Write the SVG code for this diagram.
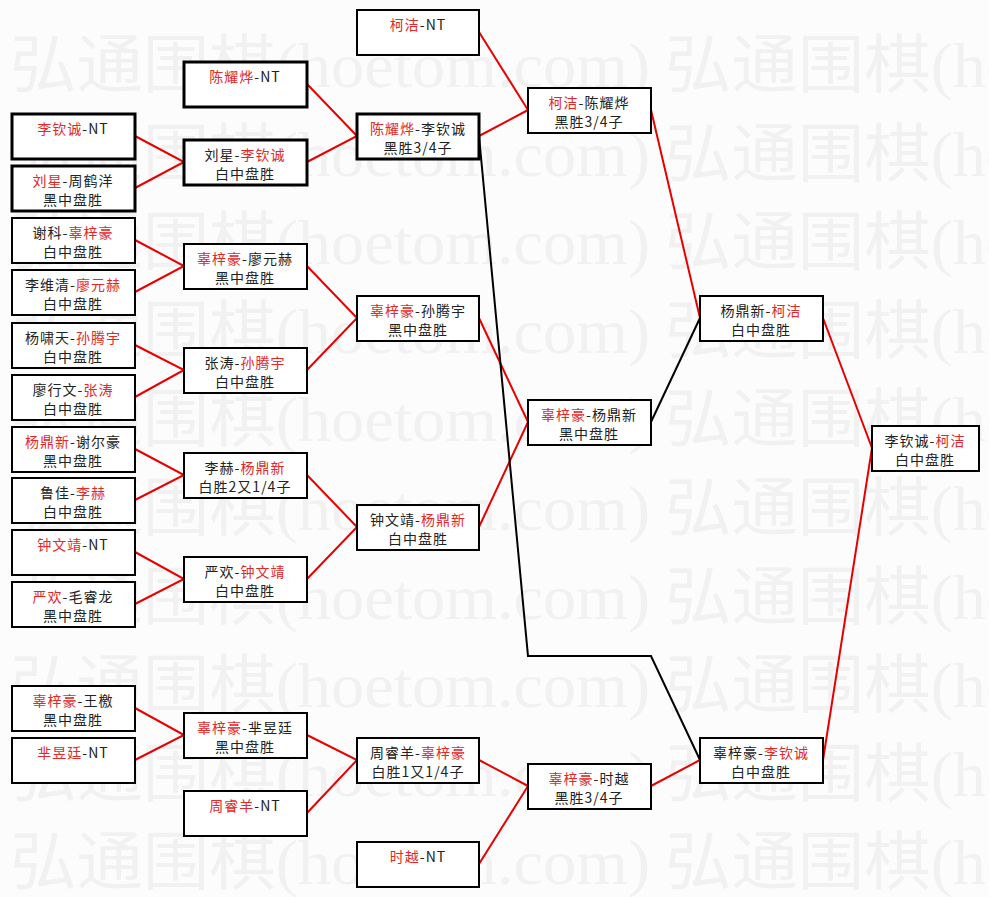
<svg xmlns="http://www.w3.org/2000/svg" width="989" height="897" viewBox="0 0 989 897">
<style>
.wm{font-family:"Liberation Serif","Noto Sans CJK SC",serif;font-size:64px;fill:#f1f1f1}
.b{fill:#fff;stroke:#000;stroke-width:2}
.bb{fill:#fff;stroke:#000;stroke-width:3}
.t{font-family:"Noto Sans CJK SC","Liberation Sans",sans-serif;font-size:14px;text-anchor:middle;fill:#222;letter-spacing:1px}
.r{fill:#e22828}
.lr{stroke:#e80000;stroke-width:2;fill:none}
.lk{stroke:#000;stroke-width:2;fill:none}
</style>
<rect width="989" height="897" fill="#fcfcfc"/>
<g id="watermark">
<text class="wm" x="10" y="87" textLength="640" lengthAdjust="spacingAndGlyphs">弘通围棋(hoetom.com)</text><text class="wm" x="665" y="87" textLength="640" lengthAdjust="spacingAndGlyphs">弘通围棋(hoetom.com)</text>
<text class="wm" x="10" y="176" textLength="640" lengthAdjust="spacingAndGlyphs">弘通围棋(hoetom.com)</text><text class="wm" x="665" y="176" textLength="640" lengthAdjust="spacingAndGlyphs">弘通围棋(hoetom.com)</text>
<text class="wm" x="10" y="264" textLength="640" lengthAdjust="spacingAndGlyphs">弘通围棋(hoetom.com)</text><text class="wm" x="665" y="264" textLength="640" lengthAdjust="spacingAndGlyphs">弘通围棋(hoetom.com)</text>
<text class="wm" x="10" y="353" textLength="640" lengthAdjust="spacingAndGlyphs">弘通围棋(hoetom.com)</text><text class="wm" x="665" y="353" textLength="640" lengthAdjust="spacingAndGlyphs">弘通围棋(hoetom.com)</text>
<text class="wm" x="10" y="441" textLength="640" lengthAdjust="spacingAndGlyphs">弘通围棋(hoetom.com)</text><text class="wm" x="665" y="441" textLength="640" lengthAdjust="spacingAndGlyphs">弘通围棋(hoetom.com)</text>
<text class="wm" x="10" y="530" textLength="640" lengthAdjust="spacingAndGlyphs">弘通围棋(hoetom.com)</text><text class="wm" x="665" y="530" textLength="640" lengthAdjust="spacingAndGlyphs">弘通围棋(hoetom.com)</text>
<text class="wm" x="10" y="619" textLength="640" lengthAdjust="spacingAndGlyphs">弘通围棋(hoetom.com)</text><text class="wm" x="665" y="619" textLength="640" lengthAdjust="spacingAndGlyphs">弘通围棋(hoetom.com)</text>
<text class="wm" x="10" y="707" textLength="640" lengthAdjust="spacingAndGlyphs">弘通围棋(hoetom.com)</text><text class="wm" x="665" y="707" textLength="640" lengthAdjust="spacingAndGlyphs">弘通围棋(hoetom.com)</text>
<text class="wm" x="10" y="796" textLength="640" lengthAdjust="spacingAndGlyphs">弘通围棋(hoetom.com)</text><text class="wm" x="665" y="796" textLength="640" lengthAdjust="spacingAndGlyphs">弘通围棋(hoetom.com)</text>
<text class="wm" x="10" y="884" textLength="640" lengthAdjust="spacingAndGlyphs">弘通围棋(hoetom.com)</text><text class="wm" x="665" y="884" textLength="640" lengthAdjust="spacingAndGlyphs">弘通围棋(hoetom.com)</text>
</g>
<g id="connectors">
<polyline class="lr" points="135,136 184,162 135,188"/>
<polyline class="lr" points="135,240 184,266 135,292"/>
<polyline class="lr" points="135,345 184,370 135,397"/>
<polyline class="lr" points="135,449 184,475 135,500"/>
<polyline class="lr" points="135,552 184,579 135,604"/>
<polyline class="lr" points="135,708 184,735 135,760"/>
<polyline class="lr" points="307,84 357,136 307,162"/>
<polyline class="lr" points="307,266 357,318 307,370"/>
<polyline class="lr" points="307,475 357,527 307,579"/>
<polyline class="lr" points="307,735 357,760 307,813"/>
<polyline class="lr" points="479,32 528,110 479,136"/>
<polyline class="lr" points="479,318 528,422 479,527"/>
<polyline class="lr" points="479,760 528,786 479,864"/>
<line class="lr" x1="651" y1="110" x2="700" y2="318"/>
<line class="lk" x1="651" y1="422" x2="700" y2="318"/>
<line class="lr" x1="651" y1="786" x2="700" y2="760"/>
<polyline class="lk" points="479,136 528,656 651,656 700,760"/>
<polyline class="lr" points="823,318 872,448 823,760"/>
</g>
<g id="n1"><rect class="bb" x="12" y="114" width="123" height="45"/><text class="t" x="73" y="134"><tspan class="r">李钦诚</tspan>-NT</text></g>
<g id="n2"><rect class="bb" x="12" y="166" width="123" height="45"/><text class="t" x="73" y="186"><tspan class="r">刘星</tspan>-周鹤洋</text><text class="t" x="73" y="205">黑中盘胜</text></g>
<g id="n3"><rect class="b" x="12" y="218" width="123" height="45"/><text class="t" x="73" y="238">谢科-<tspan class="r">辜梓豪</tspan></text><text class="t" x="73" y="257">白中盘胜</text></g>
<g id="n4"><rect class="b" x="12" y="270" width="123" height="45"/><text class="t" x="73" y="290">李维清-<tspan class="r">廖元赫</tspan></text><text class="t" x="73" y="309">白中盘胜</text></g>
<g id="n5"><rect class="b" x="12" y="323" width="123" height="45"/><text class="t" x="73" y="343">杨啸天-<tspan class="r">孙腾宇</tspan></text><text class="t" x="73" y="362">白中盘胜</text></g>
<g id="n6"><rect class="b" x="12" y="375" width="123" height="45"/><text class="t" x="73" y="395">廖行文-<tspan class="r">张涛</tspan></text><text class="t" x="73" y="414">白中盘胜</text></g>
<g id="n7"><rect class="b" x="12" y="427" width="123" height="45"/><text class="t" x="73" y="447"><tspan class="r">杨鼎新</tspan>-谢尔豪</text><text class="t" x="73" y="466">黑中盘胜</text></g>
<g id="n8"><rect class="b" x="12" y="478" width="123" height="45"/><text class="t" x="73" y="498">鲁佳-<tspan class="r">李赫</tspan></text><text class="t" x="73" y="517">白中盘胜</text></g>
<g id="n9"><rect class="b" x="12" y="530" width="123" height="45"/><text class="t" x="73" y="550"><tspan class="r">钟文靖</tspan>-NT</text></g>
<g id="n10"><rect class="b" x="12" y="582" width="123" height="45"/><text class="t" x="73" y="602"><tspan class="r">严欢</tspan>-毛睿龙</text><text class="t" x="73" y="621">黑中盘胜</text></g>
<g id="n11"><rect class="b" x="12" y="686" width="123" height="45"/><text class="t" x="73" y="706"><tspan class="r">辜梓豪</tspan>-王檄</text><text class="t" x="73" y="725">黑中盘胜</text></g>
<g id="n12"><rect class="b" x="12" y="738" width="123" height="45"/><text class="t" x="73" y="758"><tspan class="r">芈昱廷</tspan>-NT</text></g>
<g id="m1"><rect class="bb" x="184" y="62" width="123" height="45"/><text class="t" x="245" y="82"><tspan class="r">陈耀烨</tspan>-NT</text></g>
<g id="m2"><rect class="bb" x="184" y="140" width="123" height="45"/><text class="t" x="245" y="160">刘星-<tspan class="r">李钦诚</tspan></text><text class="t" x="245" y="179">白中盘胜</text></g>
<g id="m3"><rect class="b" x="184" y="244" width="123" height="45"/><text class="t" x="245" y="264"><tspan class="r">辜梓豪</tspan>-廖元赫</text><text class="t" x="245" y="283">黑中盘胜</text></g>
<g id="m4"><rect class="b" x="184" y="348" width="123" height="45"/><text class="t" x="245" y="368">张涛-<tspan class="r">孙腾宇</tspan></text><text class="t" x="245" y="387">白中盘胜</text></g>
<g id="m5"><rect class="b" x="184" y="453" width="123" height="45"/><text class="t" x="245" y="473">李赫-<tspan class="r">杨鼎新</tspan></text><text class="t" x="245" y="492">白胜2又1/4子</text></g>
<g id="m6"><rect class="b" x="184" y="557" width="123" height="45"/><text class="t" x="245" y="577">严欢-<tspan class="r">钟文靖</tspan></text><text class="t" x="245" y="596">白中盘胜</text></g>
<g id="m7"><rect class="b" x="184" y="713" width="123" height="45"/><text class="t" x="245" y="733"><tspan class="r">辜梓豪</tspan>-芈昱廷</text><text class="t" x="245" y="752">黑中盘胜</text></g>
<g id="m8"><rect class="b" x="184" y="791" width="123" height="45"/><text class="t" x="245" y="811"><tspan class="r">周睿羊</tspan>-NT</text></g>
<g id="q1"><rect class="b" x="357" y="10" width="122" height="45"/><text class="t" x="418" y="30"><tspan class="r">柯洁</tspan>-NT</text></g>
<g id="q2"><rect class="bb" x="357" y="114" width="122" height="45"/><text class="t" x="418" y="134"><tspan class="r">陈耀烨</tspan>-李钦诚</text><text class="t" x="418" y="153">黑胜3/4子</text></g>
<g id="q3"><rect class="b" x="357" y="296" width="122" height="45"/><text class="t" x="418" y="316"><tspan class="r">辜梓豪</tspan>-孙腾宇</text><text class="t" x="418" y="335">黑中盘胜</text></g>
<g id="q4"><rect class="b" x="357" y="505" width="122" height="45"/><text class="t" x="418" y="525">钟文靖-<tspan class="r">杨鼎新</tspan></text><text class="t" x="418" y="544">白中盘胜</text></g>
<g id="q5"><rect class="b" x="357" y="738" width="122" height="45"/><text class="t" x="418" y="758">周睿羊-<tspan class="r">辜梓豪</tspan></text><text class="t" x="418" y="777">白胜1又1/4子</text></g>
<g id="q6"><rect class="b" x="357" y="842" width="122" height="45"/><text class="t" x="418" y="862"><tspan class="r">时越</tspan>-NT</text></g>
<g id="s1"><rect class="b" x="528" y="88" width="123" height="45"/><text class="t" x="589" y="108"><tspan class="r">柯洁</tspan>-陈耀烨</text><text class="t" x="589" y="127">黑胜3/4子</text></g>
<g id="s2"><rect class="b" x="528" y="400" width="123" height="45"/><text class="t" x="589" y="420"><tspan class="r">辜梓豪</tspan>-杨鼎新</text><text class="t" x="589" y="439">黑中盘胜</text></g>
<g id="s3"><rect class="b" x="528" y="764" width="123" height="45"/><text class="t" x="589" y="784"><tspan class="r">辜梓豪</tspan>-时越</text><text class="t" x="589" y="803">黑胜3/4子</text></g>
<g id="u1"><rect class="b" x="700" y="296" width="123" height="45"/><text class="t" x="761" y="316">杨鼎新-<tspan class="r">柯洁</tspan></text><text class="t" x="761" y="335">白中盘胜</text></g>
<g id="u2"><rect class="b" x="700" y="738" width="123" height="45"/><text class="t" x="761" y="758">辜梓豪-<tspan class="r">李钦诚</tspan></text><text class="t" x="761" y="777">白中盘胜</text></g>
<g id="final"><rect class="b" x="872" y="426" width="107" height="45"/><text class="t" x="925" y="446">李钦诚-<tspan class="r">柯洁</tspan></text><text class="t" x="925" y="465">白中盘胜</text></g>
</svg>
